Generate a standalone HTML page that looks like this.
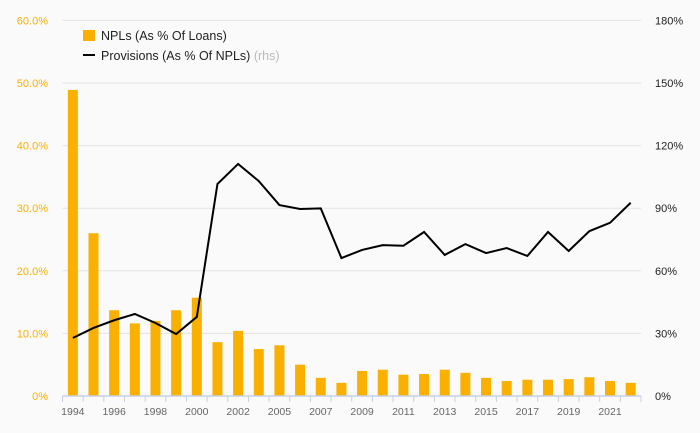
<!DOCTYPE html>
<html><head><meta charset="utf-8"><style>
body{margin:0;background:#fafafa;}
svg{display:block;font-family:"Liberation Sans",sans-serif;}
</style></head><body>
<svg id="chart" width="700" height="433">
<rect width="700" height="433" fill="#fafafa"/>
<g id="grid"></g><g id="bars"></g><g id="axes"></g><g id="line"></g>
<g>
<rect x="83" y="30" width="12" height="11" fill="#f9b000"/>
<text x="101" y="40" font-size="12.5" fill="#222">NPLs (As % Of Loans)</text>
<line x1="83" y1="55" x2="95" y2="55" stroke="#000" stroke-width="2"/>
<text x="101" y="60" font-size="12.5" fill="#222">Provisions (As % Of NPLs) <tspan fill="#bbb">(rhs)</tspan></text>
</g>
</svg>
<script>
const years=["1994","1995","1996","1997","1998","1999","2000","2001","2002","2003","2005","2006","2007","2008","2009","2010","2011","2012","2013","2014","2015","2016","2017","2018","2019","2020","2021","2022"];
const npl=[48.9,26.0,13.7,11.6,12.0,13.7,15.7,8.6,10.4,7.5,8.1,5.0,2.9,2.1,4.0,4.2,3.4,3.5,4.2,3.7,2.9,2.4,2.6,2.6,2.7,3.0,2.4,2.1];
const prov=[27.8,32.6,36.3,39.3,35.0,29.7,37.9,101.6,111.2,103,91.5,89.6,89.9,66.1,70,72.3,72,78.6,67.6,72.8,68.5,70.9,67.1,78.6,69.5,79,83,92.6];
const leftTicks=[0,10,20,30,40,50,60];
const leftLabels=["0%","10.0%","20.0%","30.0%","40.0%","50.0%","60.0%"];
const rightTicks=[0,30,60,90,120,150,180];
const rightLabels=["0%","30%","60%","90%","120%","150%","180%"];
const NS="http://www.w3.org/2000/svg";
const X0=62.5,X1=641,Y0=396,YT=20.4;
const band=(X1-X0)/years.length;
const xc=i=>X0+band*(i+0.5);
const yL=v=>Y0-(Y0-YT)*v/60;
const yR=v=>Y0-(Y0-YT)*v/180;
function mk(t,a,p){const e=document.createElementNS(NS,t);for(const k in a)e.setAttribute(k,a[k]);p.appendChild(e);return e;}
const g=document.getElementById('grid'),b=document.getElementById('bars'),ax=document.getElementById('axes'),ln=document.getElementById('line');
leftTicks.forEach((v,i)=>{
 if(v>0){const l=mk('line',{x1:X0,x2:X1,y1:yL(v),y2:yL(v),stroke:'#e3e3e3','stroke-width':1},g);
 
 }
 const t=mk('text',{x:48,y:yL(v)+4,'text-anchor':'end','font-size':11,fill:'#f9b000'},ax);t.textContent=leftLabels[i];
 
 
});
rightTicks.forEach((v,i)=>{
 const t=mk('text',{x:655,y:yR(v)+4,'font-size':11,fill:'#222'},ax);t.textContent=rightLabels[i];
 
 
});
npl.forEach((v,i)=>{
 const r=mk('rect',{x:xc(i)-5,y:yL(v),width:10,height:Y0-yL(v),fill:'#f9b000'},b);
 
 
});
const axl=mk('line',{x1:X0,x2:X1,y1:Y0,y2:Y0,stroke:'#c5d0e6','stroke-width':1.5},ax);


for(let i=0;i<=years.length;i++){
 const tk=mk('line',{x1:X0+band*i,x2:X0+band*i,y1:Y0,y2:Y0+6,stroke:'#c5d0e6','stroke-width':1},ax);
 
 
}
years.forEach((y,i)=>{
 if(i%2)return;
 const t=mk('text',{x:xc(i),y:415,'text-anchor':'middle','font-size':10.5,fill:'#666'},ax);t.textContent=y;
 
 
});
const p=mk('polyline',{points:prov.map((v,i)=>xc(i)+','+yR(v)).join(' '),fill:'none',stroke:'#000','stroke-width':2,'stroke-linejoin':'miter'},ln);


</script>
</body></html>
